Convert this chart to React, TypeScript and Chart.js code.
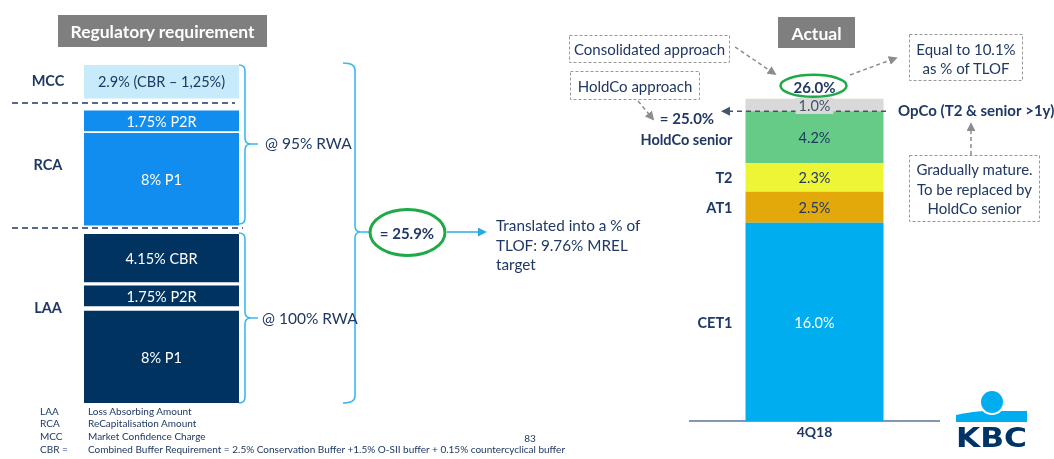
import React, { useEffect, useRef } from 'react';
import { Chart, registerables } from 'chart.js';

Chart.register(...registerables);

const FONT = 'Lato, "Open Sans", sans-serif';
const NAVY = '#1F3864';

// ---- Regulatory requirement (left) ----
const regGroups = ['LAA', 'LAA', 'LAA', 'RCA', 'RCA', 'MCC'];
const regLabels = ['8% P1', '1.75% P2R', '4.15% CBR', '8% P1', '1.75% P2R', '2.9% (CBR – 1,25%)'];
const regValues = [8, 1.75, 4.15, 8, 1.75, 2.9];
const regCategories = ['Regulatory requirement'];
const regTotalLabel = '= 25.9%';

// ---- Actual (right) ----
const actualCategories = ['4Q18'];
const actualSeries = ['CET1', 'AT1', 'T2', 'HoldCo senior', 'OpCo (T2 & senior >1y)'];
const actualValues = [16.0, 2.5, 2.3, 4.2, 1.0];

// ---- styles ----
const regColors = ['#00335F', '#00335F', '#00335F', '#118DF0', '#118DF0', '#C7EBFB'];
const regTextColors = ['#FFFFFF', '#FFFFFF', '#FFFFFF', '#FFFFFF', '#FFFFFF', NAVY];
const regGapAfter = [0.45, 0.35, 0.8, 0.2, 1.1, 0];
const actualColors = ['#00AEEF', '#E3A90B', '#EEF534', '#66CB86', '#D9D9D9'];
const actualTextColors = ['#FFFFFF', NAVY, NAVY, NAVY, '#44546A'];

const W = 1054;
const H = 459;

function buildRanges() {
  let acc = 0;
  const ranges = regValues.map((v, i) => {
    const r = [acc, acc + v];
    acc += v + regGapAfter[i];
    return r;
  });
  return { ranges, max: acc };
}

const leftLabelPlugin = {
  id: 'leftLabels',
  afterDatasetsDraw(chart: any) {
    const ctx = chart.ctx;
    ctx.save();
    ctx.font = `14.5px ${FONT}`;
    ctx.textAlign = 'center';
    ctx.textBaseline = 'middle';
    chart.data.datasets.forEach((ds: any, i: number) => {
      const el = chart.getDatasetMeta(i).data[0];
      if (!el) return;
      ctx.fillStyle = regTextColors[i];
      ctx.fillText(regLabels[i], el.x, (el.y + el.base) / 2 + 1);
    });
    ctx.restore();
  },
};

const rightLabelPlugin = {
  id: 'rightLabels',
  afterDatasetsDraw(chart: any) {
    const ctx = chart.ctx;
    const n = actualValues.length;
    const els = actualValues.map((_, i) => chart.getDatasetMeta(i).data[0]);
    const labelX = els[0].x - els[0].width / 2 - 13;
    ctx.save();
    // dashed line at HoldCo level (top of HoldCo senior segment)
    const holdEl = els[n - 2];
    const yLine = holdEl.y;
    ctx.strokeStyle = '#44546A';
    ctx.lineWidth = 1.6;
    ctx.setLineDash([5, 4]);
    ctx.beginPath();
    ctx.moveTo(728, yLine);
    ctx.lineTo(els[0].x + els[0].width / 2 + 6, yLine);
    ctx.stroke();
    ctx.setLineDash([]);
    ctx.fillStyle = '#44546A';
    ctx.beginPath();
    ctx.moveTo(721, yLine);
    ctx.lineTo(730, yLine - 4.5);
    ctx.lineTo(730, yLine + 4.5);
    ctx.closePath();
    ctx.fill();

    // value labels
    ctx.textAlign = 'center';
    ctx.textBaseline = 'middle';
    ctx.font = `14.5px ${FONT}`;
    els.forEach((el: any, i: number) => {
      const cy = (el.y + el.base) / 2 + 1;
      const txt = actualValues[i].toFixed(1) + '%';
      if (i === n - 1) {
        const tw = ctx.measureText(txt).width;
        ctx.fillStyle = actualColors[i];
        ctx.fillRect(el.x - tw / 2 - 3, cy - 8, tw + 6, 16);
      }
      ctx.fillStyle = actualTextColors[i];
      ctx.fillText(txt, el.x, cy);
    });

    // series names
    ctx.font = `bold 14.5px ${FONT}`;
    ctx.fillStyle = NAVY;
    ctx.textAlign = 'right';
    for (let i = 0; i < n - 1; i++) {
      const el = els[i];
      const cy = (el.y + el.base) / 2 + (i === n - 2 ? 3 : 1);
      ctx.fillText(actualSeries[i], labelX, cy);
    }
    // = 25.0%
    const holdTotal = actualValues.slice(0, n - 1).reduce((a, b) => a + b, 0);
    ctx.font = `bold 15px ${FONT}`;
    ctx.textAlign = 'center';
    ctx.fillText('= ' + holdTotal.toFixed(1) + '%', 687, yLine + 8);
    // OpCo label
    ctx.textAlign = 'left';
    ctx.font = `bold 15px ${FONT}`;
    ctx.fillText(actualSeries[n - 1], 898, yLine);

    // total 26.0%
    const top = els[n - 1];
    const total = actualValues.reduce((a, b) => a + b, 0);
    ctx.textAlign = 'center';
    ctx.font = `bold 15px ${FONT}`;
    ctx.fillStyle = NAVY;
    ctx.fillText(total.toFixed(1) + '%', top.x, top.y - 11);
    ctx.strokeStyle = '#1DAA47';
    ctx.lineWidth = 2.5;
    ctx.beginPath();
    ctx.ellipse(top.x - 1, top.y - 13, 33, 11, 0, 0, Math.PI * 2);
    ctx.stroke();
    ctx.restore();
  },
};

function Arrow({ x1, y1, x2, y2, color, id, dash }: any) {
  return (
    <line
      x1={x1}
      y1={y1}
      x2={x2}
      y2={y2}
      stroke={color}
      strokeWidth={1.5}
      strokeDasharray={dash ? '4 3' : undefined}
      markerEnd={`url(#${id})`}
    />
  );
}

function Overlay() {
  const t = { fontFamily: FONT, fill: NAVY } as any;
  const box = { fill: 'none', stroke: '#9A9A9A', strokeWidth: 1, strokeDasharray: '3 2' } as any;
  const brace = { fill: 'none', stroke: '#3DB8EE', strokeWidth: 1.6 } as any;
  return (
    <svg width={W} height={H} style={{ position: 'absolute', left: 0, top: 0, pointerEvents: 'none' }}>
      <defs>
        <marker id="gh" viewBox="0 0 10 10" refX="8" refY="5" markerWidth="9" markerHeight="9" markerUnits="userSpaceOnUse" orient="auto">
          <path d="M0,0 L10,5 L0,10 z" fill="#8C8C8C" />
        </marker>
        <marker id="bh" viewBox="0 0 10 10" refX="8" refY="5" markerWidth="9" markerHeight="9" markerUnits="userSpaceOnUse" orient="auto">
          <path d="M0,0 L10,5 L0,10 z" fill="#29ABE2" />
        </marker>
      </defs>

      {/* titles */}
      <rect x={58} y={15} width={209} height={32} fill="#7F7F7F" />
      <text x={162.5} y={31.5} textAnchor="middle" dominantBaseline="central" fontFamily={FONT} fontWeight="bold" fontSize={17.5} fill="#FFFFFF">
        {regCategories[0]}
      </text>
      <rect x={778} y={17} width={77} height={31} fill="#7F7F7F" />
      <text x={816.5} y={33} textAnchor="middle" dominantBaseline="central" fontFamily={FONT} fontWeight="bold" fontSize={17.5} fill="#FFFFFF">
        Actual
      </text>

      {/* group labels */}
      {['MCC', 'RCA', 'LAA'].map((g, i) => (
        <text key={g} x={48} y={[80, 164, 307][i]} textAnchor="middle" dominantBaseline="central" {...t} fontWeight="bold" fontSize={14.5}>
          {regGroups.includes(g) ? g : ''}
        </text>
      ))}
      <line x1={12} y1={103} x2={235} y2={103} stroke={NAVY} strokeWidth={1.5} strokeDasharray="6 4" />
      <line x1={12} y1={228} x2={243} y2={228} stroke={NAVY} strokeWidth={1.5} strokeDasharray="6 4" />

      {/* braces */}
      <path d="M239,65 Q245,65 245,71 V138 Q245,144 251,144 H258 M251,144 Q245,144 245,150 V218 Q245,224 239,224" {...brace} />
      <path d="M239,233 Q245,233 245,239 V312 Q245,318 251,318 H258 M251,318 Q245,318 245,324 V397 Q245,403 239,403" {...brace} />
      <path d="M343,63 Q355,63 355,70 V226 Q355,232 361,232 H370 M361,232 Q355,232 355,238 V396 Q355,403 343,403" {...brace} />
      <text x={265} y={143} dominantBaseline="central" {...t} fontSize={15.5}>@ 95% RWA</text>
      <text x={262} y={318} dominantBaseline="central" {...t} fontSize={15.5}>@ 100% RWA</text>

      {/* 25.9% ellipse */}
      <ellipse cx={407.5} cy={232.5} rx={37.5} ry={23} fill="none" stroke="#1DAA47" strokeWidth={3} />
      <text x={407} y={233} textAnchor="middle" dominantBaseline="central" {...t} fontWeight="bold" fontSize={15}>{regTotalLabel}</text>
      <Arrow x1={447} y1={232} x2={485} y2={232} color="#29ABE2" id="bh" />
      <text x={496} y={225} dominantBaseline="central" {...t} fontSize={15.3}>Translated into a % of</text>
      <text x={496} y={244.5} dominantBaseline="central" {...t} fontSize={15.3}>TLOF: 9.76% MREL</text>
      <text x={496} y={264} dominantBaseline="central" {...t} fontSize={15.3}>target</text>

      {/* footnotes */}
      {[
        ['LAA', 'Loss Absorbing Amount'],
        ['RCA', 'ReCapitalisation Amount'],
        ['MCC', 'Market Confidence Charge'],
        ['CBR =', 'Combined Buffer Requirement = 2.5% Conservation Buffer +1.5% O-SII buffer + 0.15% countercyclical buffer'],
      ].map((r, i) => (
        <g key={r[0]}>
          <text x={40} y={410.5 + i * 12.8} dominantBaseline="central" {...t} fontSize={10}>{r[0]}</text>
          <text x={88} y={410.5 + i * 12.8} dominantBaseline="central" {...t} fontSize={10}>{r[1]}</text>
        </g>
      ))}
      <text x={530} y={438} textAnchor="middle" dominantBaseline="central" {...t} fontSize={10}>83</text>

      {/* right annotations */}
      <rect x={569.5} y={35.5} width={160} height={27} {...box} />
      <text x={649.5} y={49} textAnchor="middle" dominantBaseline="central" {...t} fontSize={15}>Consolidated approach</text>
      <rect x={570.5} y={71.5} width={129} height={28} {...box} />
      <text x={635} y={86} textAnchor="middle" dominantBaseline="central" {...t} fontSize={15}>HoldCo approach</text>
      <Arrow x1={735} y1={47} x2={775} y2={74} color="#8C8C8C" id="gh" dash />
      <Arrow x1={638} y1={101} x2={653} y2={119} color="#8C8C8C" id="gh" dash />
      <Arrow x1={850} y1={75} x2={896} y2={58} color="#8C8C8C" id="gh" dash />
      <Arrow x1={971} y1={155} x2={971} y2={124} color="#8C8C8C" id="gh" dash />

      <rect x={909.5} y={34.5} width={113} height={46} {...box} />
      <text x={966} y={49} textAnchor="middle" dominantBaseline="central" {...t} fontSize={15}>Equal to 10.1%</text>
      <text x={966} y={67.5} textAnchor="middle" dominantBaseline="central" {...t} fontSize={15}>as % of TLOF</text>

      <rect x={909.5} y={155.5} width={130} height={66} {...box} />
      <text x={974.5} y={169} textAnchor="middle" dominantBaseline="central" {...t} fontSize={15}>Gradually mature.</text>
      <text x={974.5} y={188.5} textAnchor="middle" dominantBaseline="central" {...t} fontSize={15}>To be replaced by</text>
      <text x={974.5} y={208} textAnchor="middle" dominantBaseline="central" {...t} fontSize={15}>HoldCo senior</text>

      {/* KBC logo */}
      <path d="M956,415 Q975,411 986,411 L1027,411 L1027,422 L956,422 Z" fill="#00AEEF" />
      <circle cx={992} cy={402} r={12} fill="#00AEEF" stroke="#FFFFFF" strokeWidth={2} />
      <text x={956} y={447} fontFamily="'DejaVu Sans', sans-serif" fontWeight="bold" fontSize={27} fill="#003366" textLength={71} lengthAdjust="spacingAndGlyphs">
        KBC
      </text>
    </svg>
  );
}

export default function App() {
  const leftRef = useRef<HTMLCanvasElement>(null);
  const rightRef = useRef<HTMLCanvasElement>(null);

  useEffect(() => {
    const { ranges, max } = buildRanges();
    const left = new Chart(leftRef.current as HTMLCanvasElement, {
      type: 'bar',
      data: {
        labels: regCategories,
        datasets: regValues.map((_, i) => ({
          label: regLabels[i],
          data: [ranges[i] as any],
          backgroundColor: regColors[i],
          borderWidth: 0,
          grouped: false,
          barPercentage: 1,
          categoryPercentage: 1,
        })) as any,
      },
      options: {
        responsive: false,
        animation: false,
        layout: { padding: { left: 84, right: W - 239, top: 65, bottom: H - 403 } },
        plugins: { legend: { display: false }, tooltip: { enabled: false } },
        scales: {
          x: { display: false },
          y: { display: false, min: 0, max },
        },
      },
      plugins: [leftLabelPlugin],
    });

    const right = new Chart(rightRef.current as HTMLCanvasElement, {
      type: 'bar',
      data: {
        labels: actualCategories,
        datasets: actualValues.map((v, i) => ({
          label: actualSeries[i],
          data: [v],
          backgroundColor: actualColors[i],
          borderWidth: 0,
          barPercentage: 138 / 249,
          categoryPercentage: 1,
        })),
      },
      options: {
        responsive: false,
        animation: false,
        layout: { padding: { left: 690, right: W - 939, top: 74, bottom: 15.2 } },
        plugins: { legend: { display: false }, tooltip: { enabled: false } },
        scales: {
          x: {
            stacked: true,
            grid: { display: false, drawTicks: false },
            border: { display: true, color: '#8497B0', width: 2 },
            ticks: { color: NAVY, padding: 3, font: { family: FONT, size: 14, weight: 'bold' } },
          },
          y: { stacked: true, display: false, min: 0, max: 28 },
        },
      },
      plugins: [rightLabelPlugin],
    });

    return () => {
      left.destroy();
      right.destroy();
    };
  }, []);

  return (
    <div style={{ position: 'absolute', left: 0, top: 0, width: W, height: H, background: '#FFFFFF', overflow: 'hidden' }}>
      <canvas ref={leftRef} width={W} height={H} style={{ position: 'absolute', left: 0, top: 0 }} />
      <canvas ref={rightRef} width={W} height={H} style={{ position: 'absolute', left: 0, top: 0 }} />
      <Overlay />
    </div>
  );
}
